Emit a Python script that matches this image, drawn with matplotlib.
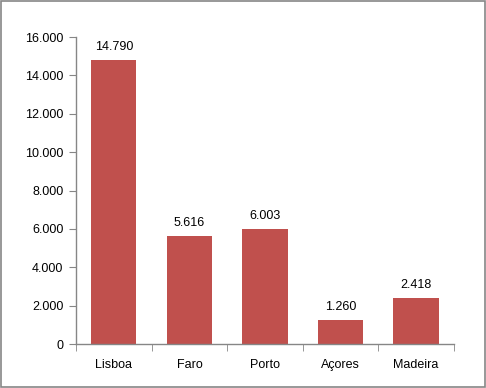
import matplotlib
matplotlib.use("Agg")
import matplotlib.pyplot as plt
from matplotlib.ticker import FuncFormatter, FixedLocator
from matplotlib.patches import Rectangle

# data
regions = ["Lisboa", "Faro", "Porto", "Açores", "Madeira"]
values = [14790, 5616, 6003, 1260, 2418]
yticks = [0, 2000, 4000, 6000, 8000, 10000, 12000, 14000, 16000]

bar_color = "#C0504D"
axis_color = "#868686"


def thousands(v, pos=None):
  return f"{int(v):,}".replace(",", ".")


plt.rcParams["font.family"] = ["Liberation Sans", "DejaVu Sans"]
fig = plt.figure(figsize=(4.86, 3.88), dpi=100)
ax = fig.add_axes([0.1564, 0.1134, 0.7776, 0.7912])

x = list(range(len(regions)))
ax.bar(x, values, width=0.6, color=bar_color, zorder=2)
for xi, v in zip(x, values):
  ax.annotate(thousands(v), (xi, v), xytext=(0, 5), textcoords="offset points",
              ha="center", va="bottom", fontsize=9, color="black")

ax.set_xlim(-0.5, len(regions) - 0.5)
ax.set_ylim(0, 16000)
ax.set_yticks(yticks)
ax.yaxis.set_major_formatter(FuncFormatter(thousands))
ax.set_xticks(x)
ax.set_xticklabels(regions)
ax.xaxis.set_minor_locator(FixedLocator([i - 0.5 for i in range(len(regions) + 1)]))
ax.tick_params(axis="x", which="major", length=0, pad=11, labelsize=9)
ax.tick_params(axis="x", which="minor", length=5, direction="out", color=axis_color)
ax.tick_params(axis="y", length=5, direction="out", color=axis_color, labelsize=9, pad=4)

for side in ["top", "right"]:
  ax.spines[side].set_visible(False)
for side in ["left", "bottom"]:
  ax.spines[side].set_color(axis_color)
  ax.spines[side].set_linewidth(1)

# outer chart border
fig.patches.append(Rectangle((0.002, 0.002), 0.996, 0.996, transform=fig.transFigure,
                             fill=False, edgecolor=axis_color, linewidth=1.2))

fig.savefig("out.png", dpi=100)
